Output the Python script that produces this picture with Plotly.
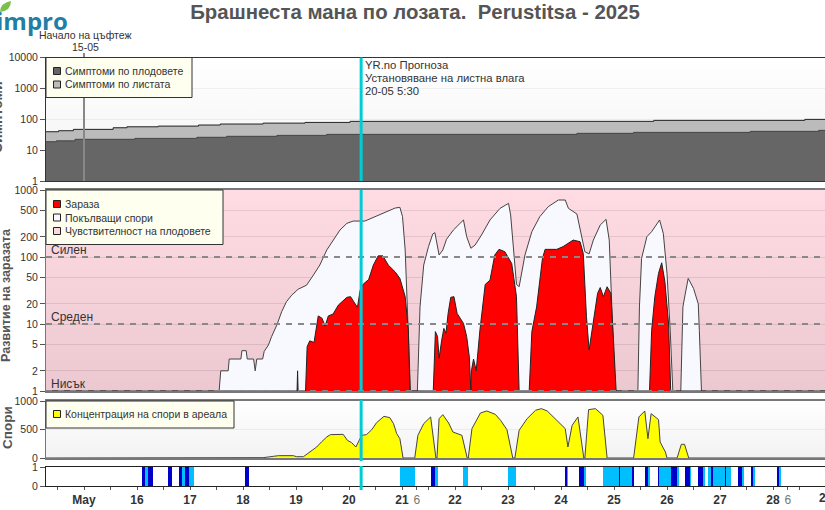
import plotly.graph_objects as go
from plotly.subplots import make_subplots

W, H = 825, 510

# x values are days of May (15.5 = 15 May 12:00)
X_START = 14.283
X_END = 28.981
CURRENT_DAY = 20.229
BLOOM_DAY = 15.0

# Symptoms
leaf_x = [14.283, 14.52, 14.80, 15.55, 15.81, 16.40, 17.16, 17.57, 18.38, 19.17, 20.02, 25.75, 28.60, 28.981]
leaf_y = [39.4, 42.5, 47, 53, 57, 60, 65, 70, 75, 79, 85.5, 92, 99, 99]
fruit_x = [14.283, 14.48, 14.83, 15.96, 17.13, 17.69, 18.64, 19.58, 24.30, 25.37, 27.57, 28.86, 28.981]
fruit_y = [18.7, 20, 22.4, 24, 26, 28, 30, 32.4, 35, 37.6, 40.5, 43.7, 43.7]

# Germinating spores
spore_x = [14.283, 17.55, 17.58, 17.72, 17.74, 17.96, 17.98, 18.06, 18.08, 18.20, 18.23, 18.26, 18.37, 18.40,
           18.48, 18.54, 18.64, 18.73, 18.82, 18.92, 19.04, 19.20, 19.33, 19.45, 19.58, 19.70, 19.83, 19.96,
           20.08, 20.30, 20.46, 20.65, 20.87, 20.96, 21.01, 21.06, 21.10, 21.14, 21.16,
           21.29, 21.34, 21.41, 21.50, 21.58, 21.62, 21.70, 21.77, 21.84, 21.97, 22.16, 22.22, 22.30, 22.38,
           22.50, 22.66, 22.85, 23.01, 23.05, 23.10, 23.16, 23.21, 23.32, 23.45, 23.60, 23.76, 23.95, 24.08,
           24.14, 24.30, 24.36, 24.45, 24.53, 24.61, 24.74, 24.85, 24.91, 24.96, 25.02,
           25.45, 25.48, 25.52, 25.62, 25.71, 25.86, 25.93, 26.00, 26.06, 26.11,
           26.26, 26.30, 26.34, 26.40, 26.50, 26.59, 26.61, 26.65, 28.981]
spore_y = [1, 1, 2, 2, 3, 3, 4, 4, 3, 3, 2, 3, 3, 3.9,
           4.86, 6.5, 9.7, 15.3, 21.5, 27, 33, 38, 54, 76, 127, 179, 253, 318,
           344, 344, 391, 449, 538, 551, 400, 127, 23, 3.25, 1,
           1, 18, 76, 143, 220, 231, 107, 127, 184, 253, 357, 201, 135, 151,
           213, 357, 532, 632, 424, 143, 39, 36, 107, 239, 400, 564, 709, 709,
           532, 438, 253, 120, 111, 179, 300, 365, 179, 18, 1,
           1, 18, 95, 201, 239, 357, 225, 57, 8.1, 1,
           1, 18, 27, 48, 34, 20, 8, 1, 1]

# Infection
infection_x = [14.283, 19.02, 19.03, 19.04, 19.18, 19.21, 19.26, 19.34, 19.42, 19.49, 19.55, 19.61, 19.70, 19.80,
               19.96, 20.03, 20.09, 20.16, 20.21, 20.27, 20.37, 20.46, 20.55, 20.64, 20.74, 20.87, 20.96, 21.06,
               21.12, 21.15,
               21.59, 21.63, 21.67, 21.70, 21.75, 21.79, 21.83, 21.87, 21.92, 21.98, 22.04, 22.16, 22.22, 22.27,
               22.30, 22.31, 22.35, 22.40, 22.47, 22.57, 22.66, 22.75, 22.83, 22.94, 23.07, 23.16, 23.21,
               23.40, 23.45, 23.54, 23.65, 23.70, 23.92, 24.04, 24.23, 24.36, 24.42, 24.48, 24.53, 24.61, 24.69,
               24.74, 24.80, 24.87, 24.94, 24.99, 25.04,
               25.67, 25.71, 25.77, 25.84, 25.90, 25.96, 26.03, 26.07, 28.981]
infection_y = [1, 1, 2, 1, 1, 4.6, 5.6, 5.3, 13.2, 12.2, 9.3, 13.2, 14.1, 19.2,
               25, 25.6, 21.5, 17.7, 32, 39.5, 46, 76, 104, 104, 76, 60, 48, 25.6,
               8.1, 1,
               1, 7.7, 6.5, 3.1, 5.8, 8.6, 7.3, 14.4, 25, 25.6, 14.4, 10.2, 6.5, 3.25,
               1, 2, 3, 2, 8.1, 39, 45, 107, 130, 120, 80, 25.6, 1,
               1, 7.7, 18, 95, 130, 130, 143, 179, 169, 113, 13, 4.1, 10.2, 28.7,
               35, 25.6, 36, 28.7, 5.8, 1,
               1, 8, 25.6, 57, 82, 43, 10, 1, 1]

# Spore concentration in the area
conc_x = [14.283, 18.38, 18.57, 18.67, 18.95, 19.01, 19.14, 19.26, 19.39, 19.48, 19.58, 19.65, 19.89, 19.97,
          20.05, 20.13, 20.19, 20.24, 20.33, 20.43, 20.52, 20.66, 20.77, 20.84, 20.90, 20.96, 21.02,
          21.24, 21.30, 21.41, 21.54, 21.64,
          21.66, 21.70, 21.77, 21.82, 21.88, 21.96, 22.13, 22.23,
          22.25, 22.32, 22.48, 22.60, 22.76, 22.86, 22.98, 23.09,
          23.13, 23.21, 23.36, 23.52, 23.63, 23.74, 23.89, 24.08, 24.13, 24.21, 24.32, 24.43,
          24.45, 24.52, 24.65, 24.79, 24.87,
          25.37, 25.47, 25.58, 25.64, 25.70, 25.84, 25.87, 25.97, 26.00,
          26.19, 26.27, 26.33, 26.41, 28.981]
conc_y = [0, 6, 29, 41, 41, 23, 23, 105, 193, 281, 369, 410, 415, 310,
          269, 193, 310, 398, 410, 497, 620, 731, 708, 603, 427, 339, 0,
          0, 398, 603, 720, 0,
          0, 690, 760, 690, 614, 456, 398, 0,
          0, 515, 790, 825, 766, 661, 497, 0,
          0, 486, 690, 837, 866, 825, 690, 515, 193, 573, 720, 0,
          0, 848, 866, 749, 0,
          0, 720, 825, 339, 778, 673, 281, 105, 0,
          0, 240, 240, 0, 0]

# Leaf wetness periods
wet_dark_start = [16.10, 16.21, 16.585, 16.80, 16.905, 18.04, 21.55, 24.08, 24.33, 25.10, 25.33, 25.58, 25.83,
                  26.08, 26.33, 26.585, 26.825, 27.10, 27.34, 27.58, 28.08]
wet_dark_end = [16.145, 16.30, 16.655, 16.855, 16.98, 18.11, 21.63, 24.11, 24.435, 25.11, 25.385, 25.64, 25.84,
                26.18, 26.43, 26.68, 26.87, 27.11, 27.415, 27.62, 28.11]
wet_light_start = [16.145, 16.855, 16.98, 20.96, 21.63, 22.145, 23.007, 24.11, 24.435, 24.79, 25.11, 25.64, 25.84,
                   26.18, 26.43, 26.68, 26.775, 26.87, 27.11, 27.415, 27.62, 28.11]
wet_light_end = [16.20, 16.905, 17.07, 21.24, 21.67, 22.245, 23.15, 24.13, 24.46, 25.10, 25.33, 25.67, 26.08,
                 26.22, 26.46, 26.71, 26.825, 27.10, 27.21, 27.44, 27.655, 28.15]

day_tick_vals = [14.5 + 0.5 * i for i in range(29)] + [21.28, 28.28]
day_tick_text = ["<b>%s</b>" % ("May" if v == 15 else int(v)) if v == int(v) else "" for v in day_tick_vals[:29]] \
    + ['<span style="color:#777">6</span>', '<span style="color:#777">6</span>']

symptom_ticks = [1, 10, 100, 1000, 10000]
infection_ticks = [1, 2, 5, 10, 20, 50, 100, 200, 500, 1000]
conc_ticks = [0, 500, 1000]
wet_ticks = [0, 1]

INK = "#333333"
DARK_GREY = "#666666"
LIGHT_GREY = "#bbbbbb"
RED = "#ff0000"
SPORE_WHITE = "#f8f8ff"
YELLOW = "#ffff00"
CYAN = "#00ccd6"
BOX = "#fffff0"
FONT = "Liberation Sans"
GREY_FADE = [[0, "rgba(238,238,238,0.75)"], [1, "rgba(255,255,255,0.75)"]]
PINK_FADE = [[0, "rgba(231,187,196,0.8)"], [1, "rgba(255,211,220,0.8)"]]


def px(x):
    return x / W


def py(y):
    return 1 - y / H


def backdrop(y_low, y_high, scale, row, name=None):
    # polygon instead of tozeroy, a log axis stretches the gradient otherwise
    fig.add_trace(go.Scatter(x=[X_START, X_END, X_END, X_START], y=[y_low, y_low, y_high, y_high], mode="none",
                             fill="toself", fillgradient=dict(type="vertical", colorscale=scale), hoverinfo="skip",
                             name=name, showlegend=False), row=row, col=1)


fig = make_subplots(rows=4, cols=1, shared_xaxes=True)

# Панел 1: симптоми
backdrop(1, 10000, GREY_FADE, 1)
fig.add_trace(go.Scatter(x=leaf_x, y=leaf_y, mode="lines", name="Симптоми по листата", fill="tozeroy",
                         fillcolor=LIGHT_GREY, line=dict(color="#222222", width=1, shape="hv"), showlegend=False), row=1, col=1)
fig.add_trace(go.Scatter(x=fruit_x, y=fruit_y, mode="lines", name="Симптоми по плодовете", fill="tozeroy",
                         fillcolor=DARK_GREY, line=dict(color="#444444", width=1, shape="hv"), showlegend=False), row=1, col=1)

# Панел 2: развитие на заразата
backdrop(1, 1000, PINK_FADE, 2, "Чувствителност на плодовете")
fig.add_trace(go.Scatter(x=spore_x, y=spore_y, mode="lines", name="Покълващи спори", fill="tozeroy",
                         fillcolor=SPORE_WHITE, line=dict(color="#444444", width=1), showlegend=False), row=2, col=1)
fig.add_trace(go.Scatter(x=infection_x, y=infection_y, mode="lines", name="Зараза", fill="tozeroy",
                         fillcolor=RED, line=dict(color="#222222", width=1), showlegend=False), row=2, col=1)
for level in [1, 10, 100]:
    fig.add_trace(go.Scatter(x=[X_START, X_END], y=[level, level], mode="lines", hoverinfo="skip",
                             line=dict(color="#888888", width=2, dash="6px,6px"), showlegend=False), row=2, col=1)

# Панел 3: спори
backdrop(0, 1000, GREY_FADE, 3)
fig.add_trace(go.Scatter(x=conc_x, y=conc_y, mode="lines", name="Концентрация на спори в ареала", fill="tozeroy",
                         fillcolor=YELLOW, line=dict(color="#444444", width=1), showlegend=False), row=3, col=1)

# Панел 4: листна влага
for starts, ends, color in [(wet_light_start, wet_light_end, "#00bfff"), (wet_dark_start, wet_dark_end, "#0000cc")]:
    fig.add_trace(go.Bar(x=[(a + b) / 2 for a, b in zip(starts, ends)], y=[1] * len(starts),
                         width=[b - a for a, b in zip(starts, ends)], marker=dict(color=color, line=dict(width=0)),
                         showlegend=False), row=4, col=1)

panels = [(57.5, 181, [0, 4], symptom_ticks, "log", INK, 1),
          (190, 391, [0, 3], infection_ticks, "log", "#777777", 2),
          (401, 458, [0, 1000], conc_ticks, "linear", "#777777", 2),
          (467, 486, [0, 1], wet_ticks, "linear", "#222222", 1)]
for i, (top, bottom, yrange, ticks, kind, line_color, line_width) in enumerate(panels, start=1):
    fig.update_yaxes(domain=[py(bottom), py(top)], type=kind, range=yrange, tickvals=ticks, ticktext=[str(t) for t in ticks],
                     ticks="outside", ticklen=5, tickcolor="#555555", showline=True, linecolor=line_color, linewidth=1,
                     showgrid=i < 4, gridcolor="#999999" if i == 2 else "#cccccc", gridwidth=1, zeroline=False, automargin=False,
                     tickfont=dict(family=FONT, size=10.5, color=INK), row=i, col=1)
    fig.update_xaxes(domain=[px(46), 1], range=[X_START, X_END], showgrid=False, zeroline=False, showline=True, automargin=False,
                     mirror=True, linecolor=line_color, linewidth=line_width, row=i, col=1)
fig.update_xaxes(ticks="", showticklabels=False, row=1, col=1)
fig.update_xaxes(ticks="", showticklabels=False, row=2, col=1)
fig.update_xaxes(ticks="", showticklabels=False, row=3, col=1)
fig.update_xaxes(tickmode="array", tickvals=day_tick_vals, ticktext=day_tick_text, tickangle=0, ticks="outside",
                 ticklen=3, tickcolor="#555555", tickfont=dict(family=FONT, size=12, color=INK), row=4, col=1)

shapes = []
notes = []


def note(x, y, text, size=10.5, color=INK, anchor="left", **kw):
    notes.append(dict(x=px(x), y=py(y), xref="paper", yref="paper", text=text, showarrow=False, xanchor=anchor,
                      yanchor="middle", font=dict(family=FONT, size=size, color=color), **kw))


def legend_box(x0, x1, y0, y1, rows):
    shapes.append(dict(type="rect", xref="paper", yref="paper", x0=px(x0), x1=px(x1), y0=py(y0), y1=py(y1),
                       fillcolor=BOX, line=dict(color=INK, width=1), layer="above"))
    for y, color, label in rows:
        shapes.append(dict(type="rect", xref="paper", yref="paper", x0=px(53.5), x1=px(60.5), y0=py(y - 3.5), y1=py(y + 3.5),
                           fillcolor=color, line=dict(color="#222222", width=1), layer="above"))
        note(63, y, label)


# вертикални линии
for y0, y1 in [(57.5, 181), (190, 391), (400, 461), (466, 490)]:
    shapes.append(dict(type="line", xref="x", yref="paper", x0=CURRENT_DAY, x1=CURRENT_DAY, y0=py(y0), y1=py(y1),
                       line=dict(color=CYAN, width=3), layer="above"))
shapes.append(dict(type="line", xref="x", yref="paper", x0=BLOOM_DAY, x1=BLOOM_DAY, y0=py(53), y1=py(181),
                   line=dict(color="#888888", width=2), layer="above"))

legend_box(46, 192, 57.5, 97.5, [(71, DARK_GREY, "Симптоми по плодовете"), (84.5, LIGHT_GREY, "Симптоми по листата")])
legend_box(46, 223, 190, 244.5, [(204, RED, "Зараза"), (217.5, SPORE_WHITE, "Покълващи спори"),
                                 (231, "#f8d8de", "Чувствителност на плодовете")])
legend_box(46, 234, 401, 428, [(414, YELLOW, "Концентрация на спори в ареала")])

note(85, 35, "Начало на цъфтеж", anchor="center")
note(85, 47, "15-05", anchor="center")
note(363, 65, "YR.no Прогноза", size=11.3)
note(363, 78, "Установяване на листна влага", size=11.3)
note(363, 91, "20-05 5:30", size=11.3)
note(49, 250, "Силен", size=12)
note(49, 317, "Среден", size=12)
note(49, 384, "Нисък", size=12)
note(826, 498, "<b>29</b>", size=12, anchor="center")

# в оригинала заглавието на първия панел е отрязано от левия край
note(-3, 117, "<b>Симптоми</b>", size=14, color="#555555", anchor="center", textangle=-90)
note(6, 295, "<b>Развитие на заразата</b>", size=12.5, color="#555555", anchor="center", textangle=-90)
note(7, 428, "<b>Спори</b>", size=13.5, color="#555555", anchor="center", textangle=-90)

# лого
notes.append(dict(x=px(-6), y=py(21), xref="paper", yref="paper", text="<b>impro</b>", showarrow=False, xanchor="left",
                  yanchor="middle", font=dict(family="Open Sans", size=24, color="#1f7fa6")))
leaf = "M %f %f Q %f %f %f %f Q %f %f %f %f Z" % (px(0), py(12), px(0), py(3), px(11), py(1), px(11), py(11), px(0), py(12))
shapes.append(dict(type="path", xref="paper", yref="paper", path=leaf, fillcolor="#7cc04b", line=dict(width=0), layer="above"))

fig.update_layout(
    width=W, height=H,
    margin=dict(l=0, r=0, t=0, b=0),
    paper_bgcolor="white", plot_bgcolor="white",
    showlegend=False, bargap=0, barmode="overlay",
    title=dict(text="<b>Брашнеста мана по лозата.\u00a0 Perustitsa - 2025</b>", xref="paper", yref="paper",
               x=px(415), xanchor="center", y=py(12), yanchor="middle", font=dict(family=FONT, size=20.4, color="#555555")),
    shapes=shapes, annotations=notes,
)

fig.write_html("out.html", config=dict(displayModeBar=False), post_script="document.body.style.margin='0';")
